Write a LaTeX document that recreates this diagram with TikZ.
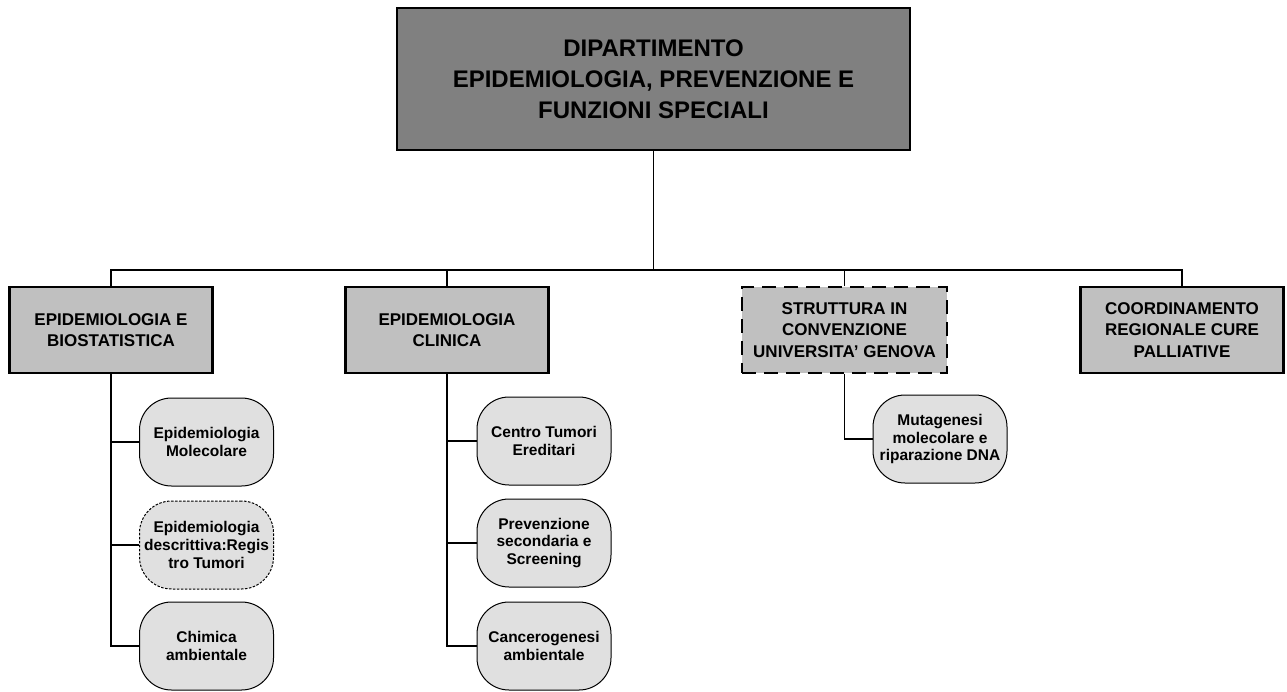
\documentclass[tikz,border=0pt]{standalone}
\usepackage{fontspec}
\setmainfont{Liberation Sans}
\usepackage{tikz}
\usetikzlibrary{positioning}
\definecolor{deptgray}{RGB}{128,128,128}
\definecolor{unitgray}{RGB}{192,192,192}
\definecolor{subgray}{RGB}{224,224,224}

\begin{document}
\begin{tikzpicture}[x=1pt,y=-1pt,
	dept/.style={draw,line width=2.4pt,fill=deptgray,minimum width=513pt,minimum height=142pt,align=center,font=\fontsize{24}{31}\selectfont\bfseries},
	unit/.style={draw,line width=2.4pt,fill=unitgray,minimum width=203pt,minimum height=86pt,align=center,font=\fontsize{17}{21.3}\selectfont\bfseries},
	sub/.style={draw,line width=1pt,fill=subgray,rounded corners=32pt,minimum width=134pt,minimum height=88pt,inner sep=1pt,align=center,font=\fontsize{15.5}{17.7}\selectfont\bfseries},
	link/.style={line width=1.3pt}]
				\useasboundingbox (0,0) rectangle (1287,691);
				% dipartimento
				\node[dept] (dip) at (653.5,79) {DIPARTIMENTO\\EPIDEMIOLOGIA, PREVENZIONE E\\FUNZIONI SPECIALI};
				\coordinate (bus) at (653,270);
				% strutture
				\node[unit] (epibio) at (111,330) {EPIDEMIOLOGIA E\\BIOSTATISTICA};
				\node[unit] (epiclin) at (447,330) {EPIDEMIOLOGIA\\CLINICA};
				\node[unit,dash pattern=on 14pt off 8pt,minimum width=205pt] (unige) at (844.5,330) {STRUTTURA IN\\CONVENZIONE\\UNIVERSITA’ GENOVA};
				\node[unit] (cure) at (1182,330) {COORDINAMENTO\\REGIONALE CURE\\PALLIATIVE};
				% sottostrutture
				\node[sub] (molec) at (206.5,442) {Epidemiologia\\Molecolare};
				\node[sub,dash pattern=on 2.5pt off 1.5pt] (registro) at (206.5,545) {Epidemiologia\\descrittiva:Regis\\tro Tumori};
				\node[sub] (chimica) at (206.5,646) {Chimica\\ambientale};
				\node[sub] (ereditari) at (544,441) {Centro Tumori\\Ereditari};
				\node[sub] (screening) at (544,543) {Prevenzione\\secondaria e\\Screening};
				\node[sub] (cancero) at (544,646) {Cancerogenesi\\ambientale};
				\node[sub] (mutag) at (940,439) {Mutagenesi\\molecolare e\\riparazione DNA};
				% collegamenti
				\draw[link] (dip.south)--(dip.south |- bus);
				\draw[link] (epibio.north)--(epibio.north |- bus)--(cure.north |- bus)--(cure.north);
				\draw[link] (epiclin.north)--(epiclin.north |- bus);
				\draw[link] (unige.north)--(unige.north |- bus);
				\draw[link] (epibio.south)|-(molec.west);
				\draw[link] (epibio.south)|-(registro.west);
				\draw[link] (epibio.south)|-(chimica.west);
				\draw[link] (epiclin.south)|-(ereditari.west);
				\draw[link] (epiclin.south)|-(screening.west);
				\draw[link] (epiclin.south)|-(cancero.west);
				\draw[link] (unige.south)|-(mutag.west);
			\end{tikzpicture}
\end{document}
